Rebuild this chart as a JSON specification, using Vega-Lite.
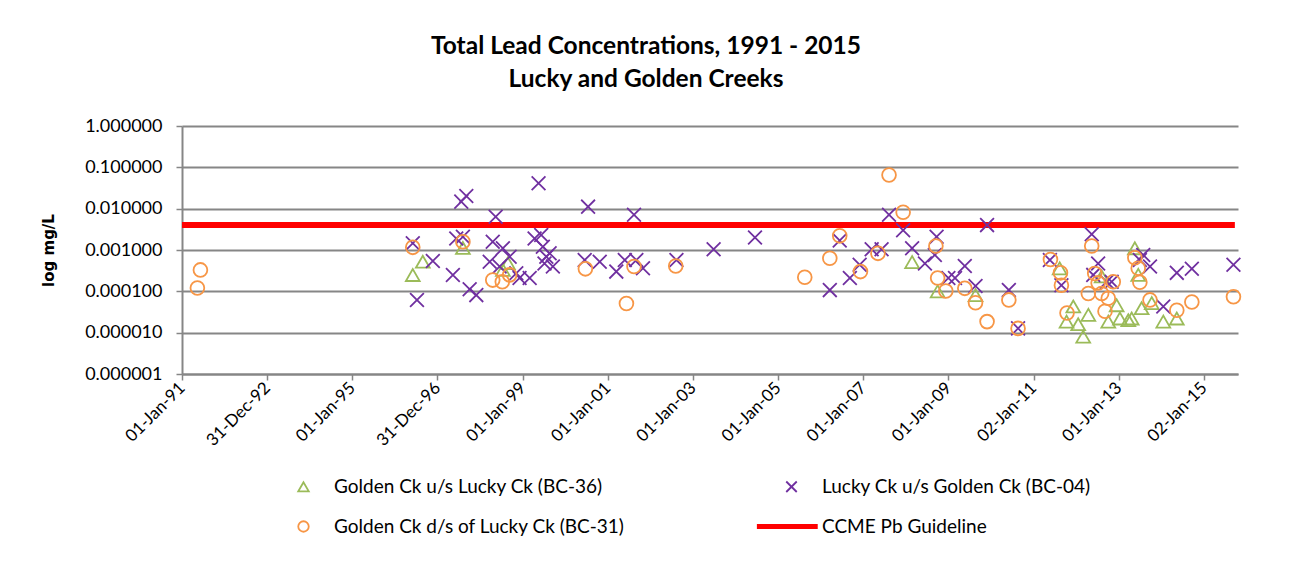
{
  "$schema": "https://vega.github.io/schema/vega-lite/v6.json",
  "width": 1056,
  "height": 248,
  "autosize": {"type": "none"},
  "padding": {"left": 182, "top": 126, "right": 53, "bottom": 195},
  "background": "white",
  "title": {
    "text": ["Total Lead Concentrations, 1991 - 2015", "Lucky and Golden Creeks"],
    "font": "Lato",
    "fontSize": 24.5,
    "fontWeight": "bold",
    "color": "#000000",
    "lineHeight": 33,
    "anchor": "middle",
    "dx": -64,
    "offset": 25
  },
  "config": {
    "font": "Lato",
    "view": {"stroke": null},
    "axis": {"labelColor": "#000000", "titleColor": "#000000"}
  },
  "datasets": {
    "pts": [
      {"d": "1996-06-03", "v": 0.000248, "s": "BC-36"},
      {"d": "1996-08-28", "v": 0.00052, "s": "BC-36"},
      {"d": "1997-08-07", "v": 0.00112, "s": "BC-36"},
      {"d": "1998-08-28", "v": 0.00048, "s": "BC-36"},
      {"d": "1998-07-16", "v": 0.00033, "s": "BC-36"},
      {"d": "2008-02-25", "v": 0.00051, "s": "BC-36"},
      {"d": "2008-10-01", "v": 0.0001, "s": "BC-36"},
      {"d": "2009-08-22", "v": 0.000081, "s": "BC-36"},
      {"d": "2011-08-14", "v": 0.00036, "s": "BC-36"},
      {"d": "2011-12-09", "v": 0.000043, "s": "BC-36"},
      {"d": "2011-10-12", "v": 0.0000185, "s": "BC-36"},
      {"d": "2012-01-20", "v": 0.000016, "s": "BC-36"},
      {"d": "2012-04-16", "v": 0.000027, "s": "BC-36"},
      {"d": "2012-03-03", "v": 0.000008, "s": "BC-36"},
      {"d": "2012-08-08", "v": 0.00023, "s": "BC-36"},
      {"d": "2012-12-15", "v": 0.000046, "s": "BC-36"},
      {"d": "2012-10-04", "v": 0.0000185, "s": "BC-36"},
      {"d": "2013-01-12", "v": 0.000022, "s": "BC-36"},
      {"d": "2013-03-25", "v": 0.00002, "s": "BC-36"},
      {"d": "2013-04-23", "v": 0.000022, "s": "BC-36"},
      {"d": "2013-05-20", "v": 0.0011, "s": "BC-36"},
      {"d": "2013-06-18", "v": 0.00025, "s": "BC-36"},
      {"d": "2013-07-17", "v": 0.000039, "s": "BC-36"},
      {"d": "2013-10-12", "v": 0.000052, "s": "BC-36"},
      {"d": "2014-01-19", "v": 0.0000185, "s": "BC-36"},
      {"d": "2014-05-15", "v": 0.000022, "s": "BC-36"},
      {"d": "1996-06-03", "v": 0.00145, "s": "BC-04"},
      {"d": "1996-07-09", "v": 0.000062, "s": "BC-04"},
      {"d": "1996-11-22", "v": 0.00054, "s": "BC-04"},
      {"d": "1997-05-13", "v": 0.000248, "s": "BC-04"},
      {"d": "1997-06-11", "v": 0.0019, "s": "BC-04"},
      {"d": "1997-08-07", "v": 0.0021, "s": "BC-04"},
      {"d": "1997-07-24", "v": 0.0148, "s": "BC-04"},
      {"d": "1997-09-05", "v": 0.0203, "s": "BC-04"},
      {"d": "1997-10-04", "v": 0.000112, "s": "BC-04"},
      {"d": "1997-11-30", "v": 0.000081, "s": "BC-04"},
      {"d": "1998-03-25", "v": 0.00052, "s": "BC-04"},
      {"d": "1998-04-20", "v": 0.00158, "s": "BC-04"},
      {"d": "1998-05-15", "v": 0.0064, "s": "BC-04"},
      {"d": "1998-06-18", "v": 0.0004, "s": "BC-04"},
      {"d": "1998-07-16", "v": 0.0011, "s": "BC-04"},
      {"d": "1998-09-12", "v": 0.00069, "s": "BC-04"},
      {"d": "1998-11-08", "v": 0.000274, "s": "BC-04"},
      {"d": "1998-12-06", "v": 0.00021, "s": "BC-04"},
      {"d": "1999-03-03", "v": 0.00021, "s": "BC-04"},
      {"d": "1999-04-14", "v": 0.0019, "s": "BC-04"},
      {"d": "1999-05-18", "v": 0.041, "s": "BC-04"},
      {"d": "1999-06-10", "v": 0.0023, "s": "BC-04"},
      {"d": "1999-06-24", "v": 0.0012, "s": "BC-04"},
      {"d": "1999-07-24", "v": 0.00069, "s": "BC-04"},
      {"d": "1999-08-21", "v": 0.00083, "s": "BC-04"},
      {"d": "1999-07-08", "v": 0.00047, "s": "BC-04"},
      {"d": "1999-09-18", "v": 0.0004, "s": "BC-04"},
      {"d": "2000-06-17", "v": 0.00057, "s": "BC-04"},
      {"d": "2000-07-16", "v": 0.0112, "s": "BC-04"},
      {"d": "2000-10-24", "v": 0.00052, "s": "BC-04"},
      {"d": "2001-03-15", "v": 0.0003, "s": "BC-04"},
      {"d": "2001-05-27", "v": 0.00057, "s": "BC-04"},
      {"d": "2001-09-03", "v": 0.00057, "s": "BC-04"},
      {"d": "2001-08-14", "v": 0.0071, "s": "BC-04"},
      {"d": "2001-10-30", "v": 0.00036, "s": "BC-04"},
      {"d": "2002-08-13", "v": 0.00057, "s": "BC-04"},
      {"d": "2003-06-28", "v": 0.00104, "s": "BC-04"},
      {"d": "2004-06-17", "v": 0.002, "s": "BC-04"},
      {"d": "2006-03-21", "v": 0.000107, "s": "BC-04"},
      {"d": "2006-06-14", "v": 0.0017, "s": "BC-04"},
      {"d": "2006-09-09", "v": 0.00021, "s": "BC-04"},
      {"d": "2006-12-02", "v": 0.00044, "s": "BC-04"},
      {"d": "2007-03-15", "v": 0.00104, "s": "BC-04"},
      {"d": "2007-06-08", "v": 0.00104, "s": "BC-04"},
      {"d": "2007-08-11", "v": 0.0071, "s": "BC-04"},
      {"d": "2007-12-10", "v": 0.003, "s": "BC-04"},
      {"d": "2008-02-25", "v": 0.0011, "s": "BC-04"},
      {"d": "2008-06-14", "v": 0.00047, "s": "BC-04"},
      {"d": "2008-09-07", "v": 0.00076, "s": "BC-04"},
      {"d": "2008-09-22", "v": 0.0021, "s": "BC-04"},
      {"d": "2009-01-01", "v": 0.00021, "s": "BC-04"},
      {"d": "2009-02-27", "v": 0.00021, "s": "BC-04"},
      {"d": "2009-05-22", "v": 0.00041, "s": "BC-04"},
      {"d": "2009-08-22", "v": 0.000135, "s": "BC-04"},
      {"d": "2009-11-29", "v": 0.004, "s": "BC-04"},
      {"d": "2010-06-04", "v": 0.000107, "s": "BC-04"},
      {"d": "2010-08-22", "v": 0.0000127, "s": "BC-04"},
      {"d": "2011-05-22", "v": 0.00057, "s": "BC-04"},
      {"d": "2011-08-29", "v": 0.00014, "s": "BC-04"},
      {"d": "2012-05-15", "v": 0.0024, "s": "BC-04"},
      {"d": "2012-07-09", "v": 0.00047, "s": "BC-04"},
      {"d": "2012-05-28", "v": 0.00025, "s": "BC-04"},
      {"d": "2012-11-02", "v": 0.00017, "s": "BC-04"},
      {"d": "2012-09-20", "v": 0.00017, "s": "BC-04"},
      {"d": "2013-07-31", "v": 0.00076, "s": "BC-04"},
      {"d": "2013-07-02", "v": 0.00057, "s": "BC-04"},
      {"d": "2013-09-27", "v": 0.0004, "s": "BC-04"},
      {"d": "2014-01-19", "v": 0.000043, "s": "BC-04"},
      {"d": "2014-05-15", "v": 0.00028, "s": "BC-04"},
      {"d": "2014-09-21", "v": 0.00035, "s": "BC-04"},
      {"d": "2015-09-13", "v": 0.00044, "s": "BC-04"},
      {"d": "1991-05-13", "v": 0.00012, "s": "BC-31"},
      {"d": "1991-06-08", "v": 0.00033, "s": "BC-31"},
      {"d": "1996-06-03", "v": 0.00116, "s": "BC-31"},
      {"d": "1997-08-07", "v": 0.00159, "s": "BC-31"},
      {"d": "1998-04-20", "v": 0.000187, "s": "BC-31"},
      {"d": "1998-07-11", "v": 0.00017, "s": "BC-31"},
      {"d": "1998-09-12", "v": 0.00025, "s": "BC-31"},
      {"d": "2000-06-23", "v": 0.00035, "s": "BC-31"},
      {"d": "2001-06-10", "v": 0.000051, "s": "BC-31"},
      {"d": "2001-08-14", "v": 0.0004, "s": "BC-31"},
      {"d": "2002-08-07", "v": 0.00041, "s": "BC-31"},
      {"d": "2005-08-18", "v": 0.00022, "s": "BC-31"},
      {"d": "2006-03-21", "v": 0.00063, "s": "BC-31"},
      {"d": "2006-06-14", "v": 0.0022, "s": "BC-31"},
      {"d": "2006-12-09", "v": 0.0003, "s": "BC-31"},
      {"d": "2007-05-08", "v": 0.00083, "s": "BC-31"},
      {"d": "2007-08-11", "v": 0.065, "s": "BC-31"},
      {"d": "2007-12-10", "v": 0.0082, "s": "BC-31"},
      {"d": "2008-09-16", "v": 0.00125, "s": "BC-31"},
      {"d": "2008-10-01", "v": 0.00021, "s": "BC-31"},
      {"d": "2008-12-10", "v": 0.000102, "s": "BC-31"},
      {"d": "2009-05-22", "v": 0.000118, "s": "BC-31"},
      {"d": "2009-08-22", "v": 0.000053, "s": "BC-31"},
      {"d": "2009-11-29", "v": 0.0000185, "s": "BC-31"},
      {"d": "2010-06-04", "v": 0.000062, "s": "BC-31"},
      {"d": "2010-08-22", "v": 0.0000127, "s": "BC-31"},
      {"d": "2011-05-27", "v": 0.00059, "s": "BC-31"},
      {"d": "2011-08-21", "v": 0.00028, "s": "BC-31"},
      {"d": "2011-08-29", "v": 0.00014, "s": "BC-31"},
      {"d": "2011-10-16", "v": 0.00003, "s": "BC-31"},
      {"d": "2012-05-15", "v": 0.00125, "s": "BC-31"},
      {"d": "2012-06-10", "v": 0.00027, "s": "BC-31"},
      {"d": "2012-07-09", "v": 0.00016, "s": "BC-31"},
      {"d": "2012-04-16", "v": 0.000089, "s": "BC-31"},
      {"d": "2012-08-08", "v": 0.000089, "s": "BC-31"},
      {"d": "2012-10-04", "v": 0.000068, "s": "BC-31"},
      {"d": "2012-09-06", "v": 0.000033, "s": "BC-31"},
      {"d": "2012-11-16", "v": 0.00017, "s": "BC-31"},
      {"d": "2013-05-20", "v": 0.00065, "s": "BC-31"},
      {"d": "2013-06-18", "v": 0.00036, "s": "BC-31"},
      {"d": "2013-07-02", "v": 0.000166, "s": "BC-31"},
      {"d": "2013-09-27", "v": 0.000062, "s": "BC-31"},
      {"d": "2014-05-15", "v": 0.000035, "s": "BC-31"},
      {"d": "2014-09-21", "v": 0.000055, "s": "BC-31"},
      {"d": "2015-09-13", "v": 0.000074, "s": "BC-31"}
    ],
    "guide": [
      {"start": "1991-01-01", "end": "2015-09-25", "v": 0.004}
    ]
  },
  "layer": [
    {
      "data": {"name": "guide"},
      "mark": {"type": "rule", "color": "#FF0000", "strokeWidth": 6},
      "encoding": {
        "x": {"field": "start", "type": "temporal", "scale": {"type": "utc"}},
        "x2": {"field": "end"},
        "y": {"field": "v", "type": "quantitative"}
      }
    },
    {
      "data": {"name": "pts"},
      "mark": {"type": "point", "filled": false, "size": 190, "strokeWidth": 1.8, "opacity": 1},
      "encoding": {
        "x": {
          "field": "d",
          "type": "temporal",
          "scale": {
            "type": "utc",
            "domain": [
              {"year": 1991, "month": 1, "date": 1, "utc": true},
              {"year": 2015, "month": 10, "date": 22, "utc": true}
            ]
          },
          "axis": {
            "title": null,
            "grid": false,
            "values": [
              {"year": 1991, "month": 1, "date": 1, "utc": true},
              {"year": 1992, "month": 12, "date": 31, "utc": true},
              {"year": 1995, "month": 1, "date": 1, "utc": true},
              {"year": 1996, "month": 12, "date": 31, "utc": true},
              {"year": 1999, "month": 1, "date": 1, "utc": true},
              {"year": 2001, "month": 1, "date": 1, "utc": true},
              {"year": 2003, "month": 1, "date": 1, "utc": true},
              {"year": 2005, "month": 1, "date": 1, "utc": true},
              {"year": 2007, "month": 1, "date": 1, "utc": true},
              {"year": 2009, "month": 1, "date": 1, "utc": true},
              {"year": 2011, "month": 1, "date": 2, "utc": true},
              {"year": 2013, "month": 1, "date": 1, "utc": true},
              {"year": 2015, "month": 1, "date": 2, "utc": true}
            ],
            "labelExpr": "utcFormat(datum.value, '%d-%b-%y')",
            "labelAngle": -45,
            "labelAlign": "right",
            "labelBaseline": "middle",
            "labelFontSize": 17,
            "labelPadding": 5,
            "labelOverlap": false,
            "labelBound": false,
            "labelFlush": false,
            "domainColor": "#868686",
            "domainWidth": 2,
            "tickColor": "#868686",
            "tickWidth": 1.5,
            "tickSize": 6
          }
        },
        "y": {
          "field": "v",
          "type": "quantitative",
          "scale": {"type": "log", "domain": [0.000001, 1], "nice": false},
          "axis": {
            "title": "log mg/L",
            "titleFont": "DejaVu Sans",
            "titleFontSize": 15,
            "titleFontWeight": "bold",
            "titlePadding": 28,
            "values": [0.000001, 0.00001, 0.0001, 0.001, 0.01, 0.1, 1],
            "format": ".6f",
            "labelFontSize": 18,
            "labelPadding": 14,
            "labelFlush": false,
            "grid": true,
            "gridColor": "#868686",
            "gridWidth": 2,
            "domainColor": "#868686",
            "domainWidth": 2,
            "tickColor": "#868686",
            "tickWidth": 1.5,
            "tickSize": 6
          }
        },
        "color": {
          "field": "s",
          "type": "nominal",
          "scale": {
            "domain": ["BC-36", "BC-04", "BC-31", "CCME"],
            "range": ["#9BBB59", "#7030A0", "#F79646", "#FF0000"]
          },
          "legend": {
            "title": null,
            "orient": "none",
            "legendX": 112,
            "legendY": 351,
            "direction": "horizontal",
            "columns": 2,
            "columnPadding": 128,
            "rowPadding": 20,
            "symbolSize": 110,
            "symbolStrokeWidth": 1.8,
            "labelOffset": 21,
            "labelFontSize": 19,
            "labelColor": "#000000",
            "labelLimit": 500,
            "labelExpr": "datum.label == 'BC-36' ? 'Golden Ck u/s Lucky Ck (BC-36)' : datum.label == 'BC-04' ? 'Lucky Ck u/s Golden Ck (BC-04)' : datum.label == 'BC-31' ? 'Golden Ck d/s of Lucky Ck (BC-31)' : 'CCME Pb Guideline'"
          }
        },
        "shape": {
          "field": "s",
          "type": "nominal",
          "scale": {
            "domain": ["BC-36", "BC-04", "BC-31", "CCME"],
            "range": ["triangle-up", "M-1,-1L1,1M1,-1L-1,1", "circle", "M-6.6,-0.3L5,-0.3M-6.6,0L5,0M-6.6,0.3L5,0.3"]
          }
        }
      }
    }
  ]
}
